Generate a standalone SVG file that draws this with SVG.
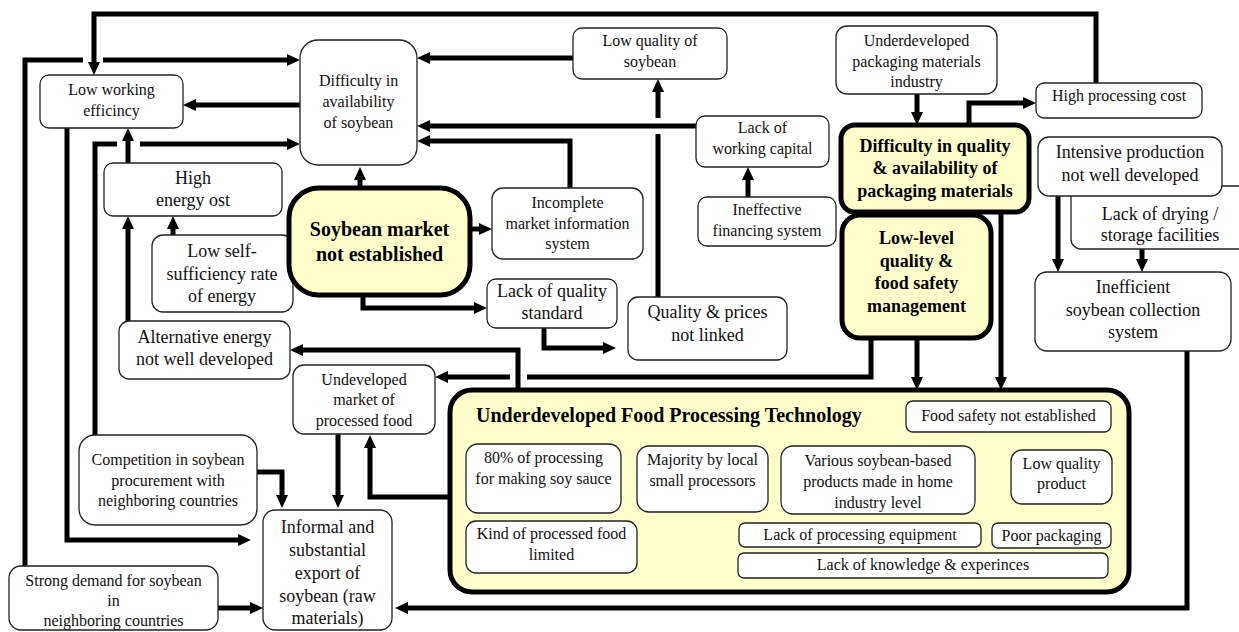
<svg xmlns="http://www.w3.org/2000/svg" width="1239" height="632" viewBox="0 0 1239 632" font-family="Liberation Serif, DejaVu Serif, serif">
<defs>
<marker id="ah" markerUnits="userSpaceOnUse" markerWidth="14" markerHeight="12" refX="1" refY="6" orient="auto">
<path d="M0,0 L13,6 L0,12 z" fill="#000"/>
</marker>
<style>
.b{fill:#fff;stroke:#222;stroke-width:1.3}
.k{fill:#ffffcc;stroke:#000;stroke-width:5}
.c{fill:none;stroke:#000;stroke-width:5;stroke-linejoin:miter}
.a{marker-end:url(#ah)}
text{font-family:'Liberation Serif','DejaVu Serif',serif;fill:#111;text-anchor:middle}
.s16{font-size:16px}
.s18{font-size:18px}
.s20{font-size:20px}
.bd{font-weight:bold;fill:#000}
</style>
</defs>
<rect width="1239" height="632" fill="#fff"/>

<g id="connectors">
<path class="c a" d="M1096,83 V14 H94 V63"/>
<path class="c" d="M25,566 V60 H83"/>
<path class="c a" d="M103,60 H288"/>
<path class="c a" d="M300,105 H195"/>
<path class="c a" d="M128,163 V140"/>
<path class="c" d="M95,435 V144 H117"/>
<path class="c a" d="M140,144 H288"/>
<path class="c a" d="M67,128 V540 H239"/>
<path class="c a" d="M173,235 V228"/>
<path class="c a" d="M128,321 V228"/>
<path class="c a" d="M360,188 V179"/>
<path class="c a" d="M470,229 H480"/>
<path class="c a" d="M363,295 V308 H475"/>
<path class="c a" d="M570,188 V141 H429"/>
<path class="c a" d="M696,126 H429"/>
<path class="c a" d="M573,58 H429"/>
<path class="c" d="M658,297 V134"/>
<path class="c a" d="M658,118 V91"/>
<path class="c a" d="M748,197 V179"/>
<path class="c a" d="M544,328 V348 H604"/>
<path class="c a" d="M917,94 V113"/>
<path class="c a" d="M969,125 V103 H1024"/>
<path class="c a" d="M1001,212 V378"/>
<path class="c a" d="M917,338 V378"/>
<path class="c" d="M871,338 V377 H527"/>
<path class="c a" d="M510,377 H447"/>
<path class="c a" d="M518,390 V350 H302"/>
<path class="c a" d="M338,434 V496"/>
<path class="c a" d="M450,497 H370 V447"/>
<path class="c a" d="M257,472 H282 V496"/>
<path class="c a" d="M218,608 H251"/>
<path class="c a" d="M1187,351 V608 H407"/>
<path class="c a" d="M1058,196 V260"/>
<path class="c a" d="M1142,249 V260"/>
</g>

<g id="n-low-working">
<rect class="b" x="40" y="75" width="143" height="53" rx="9"/>
<text class="s16" x="111.5" y="95">Low working</text>
<text class="s16" x="111.5" y="116">efficincy</text>
</g>

<g id="n-difficulty-soybean">
<rect class="b" x="300" y="40" width="117" height="125" rx="18"/>
<text class="s16" x="358.5" y="86">Difficulty in</text>
<text class="s16" x="358.5" y="107">availability</text>
<text class="s16" x="358.5" y="128">of soybean</text>
</g>

<g id="n-high-energy">
<rect class="b" x="104" y="163" width="178" height="53" rx="9"/>
<text class="s18" x="193" y="184">High</text>
<text class="s18" x="193" y="206">energy ost</text>
</g>

<g id="n-low-self">
<rect class="b" x="152" y="235" width="141" height="77" rx="11"/>
<text class="s18" x="222" y="257">Low self-</text>
<text class="s18" x="222" y="280">sufficiency rate</text>
<text class="s18" x="222" y="302">of energy</text>
</g>

<g id="n-alternative">
<rect class="b" x="119" y="321" width="171" height="58" rx="10"/>
<text class="s18" x="204.5" y="343">Alternative energy</text>
<text class="s18" x="204.5" y="365">not well developed</text>
</g>

<g id="n-soybean-market">
<rect class="k" x="289" y="188" width="181" height="107" rx="30"/>
<text class="s20 bd" x="379.5" y="236">Soybean market</text>
<text class="s20 bd" x="379.5" y="261">not established</text>
</g>

<g id="n-incomplete">
<rect class="b" x="492" y="188" width="151" height="71" rx="11"/>
<text class="s16" x="567.5" y="208">Incomplete</text>
<text class="s16" x="567.5" y="229">market information</text>
<text class="s16" x="567.5" y="249">system</text>
</g>

<g id="n-low-quality-soybean">
<rect class="b" x="573" y="28" width="154" height="51" rx="9"/>
<text class="s16" x="650" y="46">Low quality of</text>
<text class="s16" x="650" y="67">soybean</text>
</g>

<g id="n-working-capital">
<rect class="b" x="696" y="116" width="133" height="51" rx="9"/>
<text class="s16" x="762.5" y="133">Lack of</text>
<text class="s16" x="762.5" y="154">working capital</text>
</g>

<g id="n-financing">
<rect class="b" x="698" y="197" width="138" height="49" rx="9"/>
<text class="s16" x="767" y="215">Ineffective</text>
<text class="s16" x="767" y="236">financing system</text>
</g>

<g id="n-quality-standard">
<rect class="b" x="487" y="279" width="130" height="49" rx="9"/>
<text class="s18" x="552" y="297">Lack of quality</text>
<text class="s18" x="552" y="319">standard</text>
</g>

<g id="n-quality-prices">
<rect class="b" x="628" y="297" width="159" height="63" rx="10"/>
<text class="s18" x="707.5" y="318">Quality &amp; prices</text>
<text class="s18" x="707.5" y="341">not linked</text>
</g>

<g id="n-packaging-industry">
<rect class="b" x="836" y="26" width="161" height="68" rx="11"/>
<text class="s16" x="916.5" y="46">Underdeveloped</text>
<text class="s16" x="916.5" y="67">packaging materials</text>
<text class="s16" x="916.5" y="87">industry</text>
</g>

<g id="n-high-processing">
<rect class="b" x="1036" y="83" width="166" height="35" rx="8"/>
<text class="s16" x="1119" y="101">High processing cost</text>
</g>

<g id="n-packaging-difficulty">
<rect class="k" x="841" y="125" width="188" height="87" rx="14"/>
<text class="s18 bd" x="935" y="152">Difficulty in quality</text>
<text class="s18 bd" x="935" y="174">&amp; availability of</text>
<text class="s18 bd" x="935" y="197">packaging materials</text>
</g>

<g id="n-drying">
<rect class="b" x="1071" y="186" width="190" height="63" rx="10"/>
<text class="s18" x="1160" y="220">Lack of drying /</text>
<text class="s18" x="1160" y="241">storage facilities</text>
</g>

<g id="n-intensive">
<rect class="b" x="1038" y="137" width="184" height="59" rx="11"/>
<text class="s18" x="1130" y="158">Intensive production</text>
<text class="s18" x="1130" y="181">not well developed</text>
</g>

<g id="n-low-level">
<rect class="k" x="842" y="215" width="149" height="123" rx="18"/>
<text class="s18 bd" x="916.5" y="244">Low-level</text>
<text class="s18 bd" x="916.5" y="267">quality &amp;</text>
<text class="s18 bd" x="916.5" y="289">food safety</text>
<text class="s18 bd" x="916.5" y="312">management</text>
</g>

<g id="n-inefficient">
<rect class="b" x="1035" y="272" width="196" height="79" rx="12"/>
<text class="s18" x="1133" y="293">Inefficient</text>
<text class="s18" x="1133" y="316">soybean collection</text>
<text class="s18" x="1133" y="338">system</text>
</g>

<g id="n-undeveloped-market">
<rect class="b" x="293" y="365" width="142" height="69" rx="11"/>
<text class="s16" x="364" y="385">Undeveloped</text>
<text class="s16" x="364" y="405">market of</text>
<text class="s16" x="364" y="426">processed food</text>
</g>

<g id="n-food-processing">
<rect class="k" x="450" y="390" width="679" height="202" rx="22"/>
<text class="s20 bd" style="text-anchor:start" x="476" y="422">Underdeveloped Food Processing Technology</text>
<rect class="b" x="906" y="401" width="205" height="31" rx="7"/>
<text class="s16" x="1008.5" y="421">Food safety not established</text>
<rect class="b" x="466" y="444" width="155" height="69" rx="12"/>
<text class="s16" x="543.5" y="463">80% of processing</text>
<text class="s16" x="543.5" y="484">for making soy sauce</text>
<rect class="b" x="637" y="446" width="131" height="66" rx="12"/>
<text class="s16" x="702.5" y="465">Majority by local</text>
<text class="s16" x="702.5" y="486">small processors</text>
<rect class="b" x="781" y="446" width="194" height="68" rx="12"/>
<text class="s16" x="878" y="466">Various soybean-based</text>
<text class="s16" x="878" y="487">products made in home</text>
<text class="s16" x="878" y="508">industry level</text>
<rect class="b" x="1011" y="450" width="101" height="54" rx="11"/>
<text class="s16" x="1061.5" y="469">Low quality</text>
<text class="s16" x="1061.5" y="489">product</text>
<rect class="b" x="466" y="521" width="171" height="52" rx="10"/>
<text class="s16" x="551.5" y="539">Kind of processed food</text>
<text class="s16" x="551.5" y="560">limited</text>
<rect class="b" x="739" y="523" width="242" height="24" rx="6"/>
<text class="s16" x="860" y="540">Lack of processing equipment</text>
<rect class="b" x="992" y="523" width="119" height="25" rx="6"/>
<text class="s16" x="1051.5" y="541">Poor packaging</text>
<rect class="b" x="738" y="553" width="370" height="25" rx="6"/>
<text class="s16" x="923" y="570">Lack of knowledge &amp; experinces</text>
</g>

<g id="n-competition">
<rect class="b" x="79" y="435" width="178" height="90" rx="16"/>
<text class="s16" x="168" y="465">Competition in soybean</text>
<text class="s16" x="168" y="486">procurement with</text>
<text class="s16" x="168" y="506">neighboring  countries</text>
</g>

<g id="n-informal">
<rect class="b" x="263" y="510" width="129" height="120" rx="12"/>
<text class="s18" x="327.5" y="533">Informal and</text>
<text class="s18" x="327.5" y="556">substantial</text>
<text class="s18" x="327.5" y="579">export of</text>
<text class="s18" x="327.5" y="602">soybean (raw</text>
<text class="s18" x="327.5" y="624">materials)</text>
</g>

<g id="n-strong-demand">
<rect class="b" x="9" y="566" width="209" height="64" rx="12"/>
<text class="s16" x="113.5" y="586">Strong demand for soybean</text>
<text class="s16" x="113.5" y="606">in</text>
<text class="s16" x="113.5" y="626">neighboring countries</text>
</g>
</svg>
